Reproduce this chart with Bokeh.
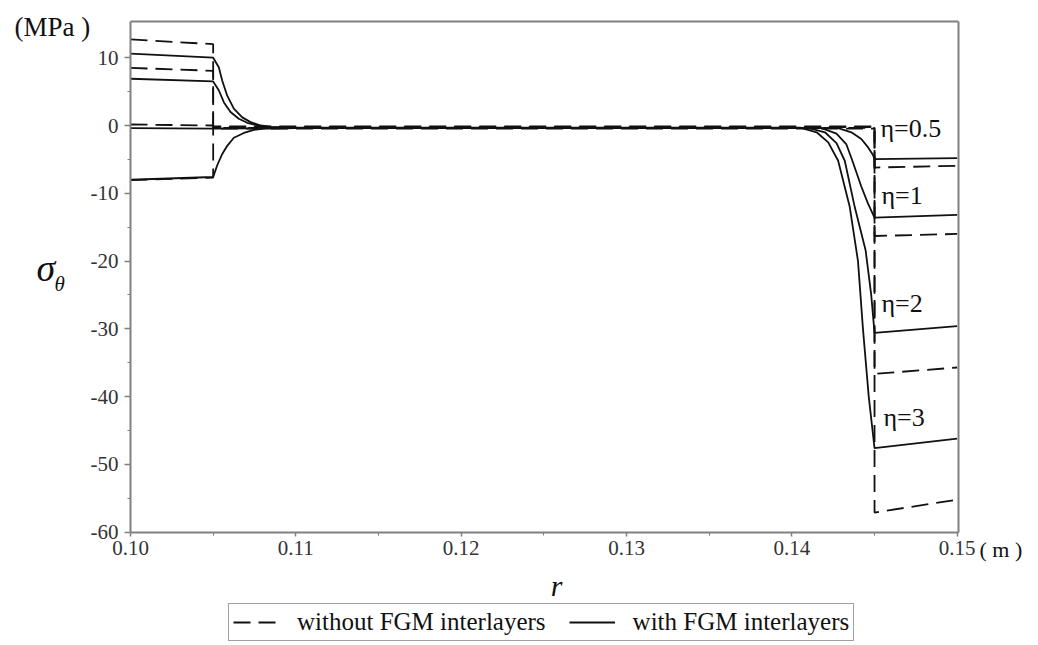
from bokeh.plotting import figure
from bokeh.models import Label, Legend, LegendItem, FixedTicker, Range1d, LinearAxis
from bokeh.core.properties import value
from bokeh.embed import file_html
from bokeh.resources import INLINE

SERIF = "'Liberation Serif', 'Times New Roman', Times, serif"

# ---------------- data ----------------
eta_labels = ["η=0.5", "η=1", "η=2", "η=3"]
eta_label_r = [0.14536, 0.14542, 0.14542, 0.14554]
eta_label_v = [-0.5, -10.3, -26.3, -43.1]

r_inner = [0.100, 0.105]
r_interface_out = 0.145
r_outer_end = 0.150

# without FGM interlayers (dashed)
nofgm_inner_start = [-8.07, 0.15, 8.5, 12.7]
nofgm_inner_end = [-7.7, 0.0, 8.07, 12.0]
nofgm_middle = [-0.15, -0.25, -0.35, -0.45]
nofgm_outer_start = [-6.2, -16.3, -36.65, -57.1]
nofgm_outer_end = [-5.95, -16.0, -35.7, -55.2]

# with FGM interlayers (solid)
fgm_inner_start = [-8.0, -0.4, 6.9, 10.6]
fgm_inner_end = [-7.6, -0.45, 6.5, 10.0]
fgm_outer_start = [-4.95, -13.6, -30.6, -47.6]
fgm_outer_end = [-4.8, -13.2, -29.6, -46.2]

fgm_left_r = [
    [0.10524, 0.10555, 0.10585, 0.10625, 0.10686, 0.10746, 0.10807, 0.1100],
    [0.1100],
    [0.10534, 0.10565, 0.10605, 0.10655, 0.10706, 0.10766, 0.1085, 0.1100],
    [0.10534, 0.10555, 0.10585, 0.10625, 0.10676, 0.10726, 0.10787, 0.1085, 0.1100],
]
fgm_left_v = [
    [-5.9, -4.2, -3.0, -1.8, -1.1, -0.64, -0.45, -0.4],
    [-0.4],
    [5.2, 3.4, 2.0, 1.0, 0.4, 0.0, -0.25, -0.35],
    [8.6, 6.6, 4.4, 2.5, 1.2, 0.5, 0.0, -0.2, -0.3],
]
fgm_right_r = [
    [0.1428, 0.1436, 0.1442, 0.1446, 0.1449],
    [0.1418, 0.1427, 0.1433, 0.14366, 0.1442, 0.1446],
    [0.1410, 0.1420, 0.1427, 0.1432, 0.1438, 0.14446, 0.1448],
    [0.1405, 0.1415, 0.1422, 0.1428, 0.1435, 0.1440, 0.1443, 0.14465],
]
fgm_right_v = [
    [-0.4, -1.0, -2.0, -3.2, -4.3],
    [-0.4, -1.2, -2.8, -5.2, -9.0, -11.5],
    [-0.35, -1.0, -2.6, -5.2, -12.0, -18.4, -25.0],
    [-0.3, -1.0, -2.5, -5.2, -12.0, -20.0, -30.0, -40.0],
]

x_ticks = [0.10, 0.11, 0.12, 0.13, 0.14, 0.15]
x_tick_labels = ["0.10", "0.11", "0.12", "0.13", "0.14", "0.15"]
x_minor = [0.105, 0.115, 0.125, 0.135, 0.145]
y_ticks = [-60, -50, -40, -30, -20, -10, 0, 10]
y_tick_labels = ["-60", "-50", "-40", "-30", "-20", "-10", "0", "10"]
y_minor = [-55, -45, -35, -25, -15, -5, 5]

# ---------------- layout (pixels) ----------------
W, H = 1036, 643          # canvas = frame, page pixels
PAGE = 0                  # the figure sits at the page's top-left
PX_PER_R = 16534.0        # horizontal px per metre
PX_PER_S = 6.7783         # vertical px per MPa
X0_PX, Y0_PX = 130, 125   # page pixel of r=0.10 and sigma=0

def px2r(px):
    return 0.10 + (px - X0_PX) / PX_PER_R

def py2s(py):
    return (Y0_PX - py) / PX_PER_S

x_start = px2r(PAGE)
x_end = px2r(PAGE + W)
y_end = py2s(PAGE)
y_start = py2s(PAGE + H)
BOX_RIGHT = px2r(958)
BOX_TOP = py2s(21)
BOX_BOTTOM = -60
BOX_LEFT = 0.10

p = figure(
    frame_width=W, frame_height=H,
    min_border=0, min_border_left=0, min_border_right=0, min_border_top=0, min_border_bottom=0,
    x_range=Range1d(x_start, x_end), y_range=Range1d(y_start, y_end),
    x_axis_type=None, y_axis_type=None,
    output_backend="svg", toolbar_location=None,
)
p.xgrid.visible = False
p.ygrid.visible = False
p.outline_line_color = None
p.background_fill_color = "white"
p.border_fill_color = "white"

FRAME_COLOR = "#808080"

def style_axis(ax):
    ax.axis_line_color = FRAME_COLOR
    ax.axis_line_width = 2
    ax.major_tick_line_color = FRAME_COLOR
    ax.minor_tick_line_color = FRAME_COLOR
    ax.major_tick_line_width = 1.5
    ax.major_tick_in = 0
    ax.major_tick_out = 6
    ax.minor_tick_in = 0
    ax.minor_tick_out = 3
    ax.major_label_text_font = SERIF
    ax.major_label_text_font_size = "21px"
    ax.major_label_text_color = "#333333"

left_axis = LinearAxis(fixed_location=BOX_LEFT, bounds=(BOX_BOTTOM, BOX_TOP),
                       ticker=FixedTicker(ticks=y_ticks, minor_ticks=y_minor))
left_axis.major_label_overrides = {t: l for t, l in zip(y_ticks, y_tick_labels)}
style_axis(left_axis)
left_axis.major_label_standoff = 6
p.add_layout(left_axis, "left")

bottom_axis = LinearAxis(fixed_location=BOX_BOTTOM, bounds=(BOX_LEFT, BOX_RIGHT),
                         ticker=FixedTicker(ticks=x_ticks, minor_ticks=x_minor))
bottom_axis.major_label_overrides = {t: l for t, l in zip(x_ticks, x_tick_labels)}
style_axis(bottom_axis)
bottom_axis.major_tick_out = 4
bottom_axis.major_label_standoff = 5
p.add_layout(bottom_axis, "below")

top_axis = LinearAxis(fixed_location=BOX_TOP, bounds=(BOX_LEFT, BOX_RIGHT),
                      ticker=FixedTicker(ticks=[]))
style_axis(top_axis)
p.add_layout(top_axis, "above")

right_axis = LinearAxis(fixed_location=BOX_RIGHT, bounds=(BOX_BOTTOM, BOX_TOP),
                        ticker=FixedTicker(ticks=[]))
style_axis(right_axis)
p.add_layout(right_axis, "right")

LINE_COLOR = "#111111"
LW = 1.8

dashed_renderers = []
solid_renderers = []
for i in range(4):
    xs = [r_inner[0], r_inner[1], r_inner[1], r_interface_out, r_interface_out, r_outer_end]
    ys = [nofgm_inner_start[i], nofgm_inner_end[i], nofgm_middle[i], nofgm_middle[i],
          nofgm_outer_start[i], nofgm_outer_end[i]]
    dashed_renderers.append(
        p.line(xs, ys, line_color=LINE_COLOR, line_width=LW, line_dash="17 8"))

for i in range(4):
    xs = [r_inner[0], r_inner[1]] + fgm_left_r[i] + fgm_right_r[i] + [r_interface_out, r_outer_end]
    ys = [fgm_inner_start[i], fgm_inner_end[i]] + fgm_left_v[i] + fgm_right_v[i] + \
         [fgm_outer_start[i], fgm_outer_end[i]]
    solid_renderers.append(
        p.line(xs, ys, line_color=LINE_COLOR, line_width=LW))

p.text(x=eta_label_r, y=eta_label_v, text=eta_labels, text_font=value(SERIF),
       text_font_size="26px", text_baseline="middle", text_align="left", text_color="#111111")

# free texts
def add_label(text, px, py, size, style="normal", align="left", baseline="middle"):
    p.add_layout(Label(x=px2r(px), y=py2s(py), text=text, text_font=SERIF,
                       text_font_size=size, text_font_style=style, text_align=align,
                       text_baseline=baseline, text_color="#111111"))

add_label("(MPa )", 14, 26, "27px")
add_label("( m )", 979, 549, "22px")
add_label("σ", 36, 267, "38px", style="italic", baseline="alphabetic")
add_label("θ", 54, 283, "21px", style="italic", baseline="alphabetic")
add_label("r", 556, 585, "30px", style="italic", align="center", baseline="alphabetic")

legend = Legend(
    items=[LegendItem(label="without FGM interlayers", renderers=[dashed_renderers[0]]),
           LegendItem(label="with FGM interlayers", renderers=[solid_renderers[0]])],
    orientation="horizontal", location=(228 - PAGE, PAGE + H - 641),
    label_text_font=SERIF, label_text_font_size="25px", label_text_color="#111111",
    glyph_width=46, glyph_height=24, label_standoff=18, spacing=23, padding=4, margin=0,
    border_line_color="#444444", border_line_width=1.5, background_fill_alpha=1,
)
p.add_layout(legend)

open("out.html", "w").write(file_html(p, INLINE))
